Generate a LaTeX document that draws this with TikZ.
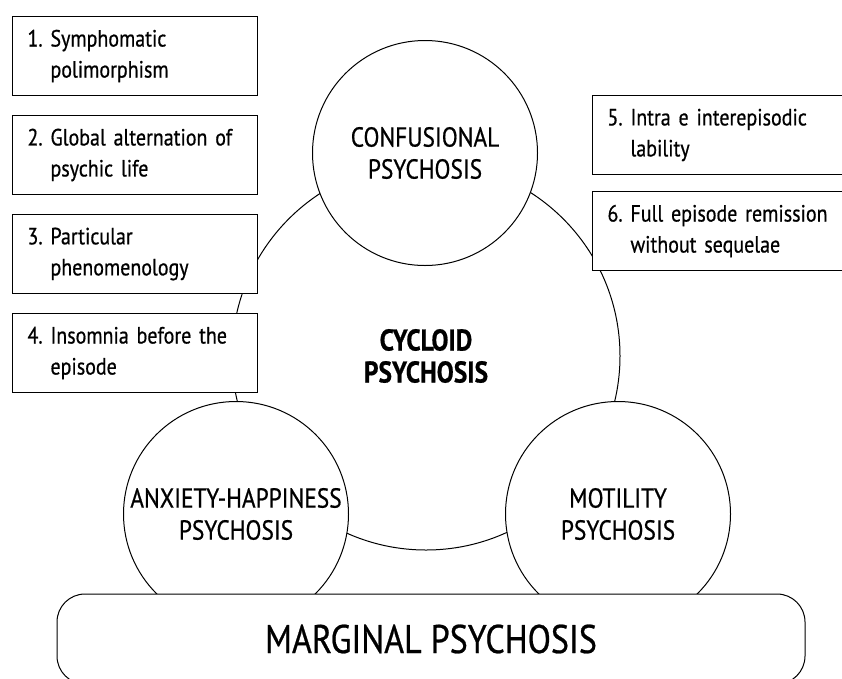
\documentclass[tikz,border=0pt]{standalone}
\usepackage{fontspec}
\setmainfont[FakeStretch=0.85,FakeBold=0.6]{PT Sans}
\frenchspacing
\begin{document}
\begin{tikzpicture}[x=1pt,y=-1pt,
  line width=1pt,
  itembox/.style={draw, fill=white, anchor=north west, minimum width=245pt,
    minimum height=79pt, text width=215pt, inner xsep=15pt, inner ysep=0pt, align=left,
    font=\fontsize{23.5}{31}\selectfont},
  subcirc/.style={draw, fill=white, circle, minimum size=225pt, inner sep=0pt,
    align=center, font=\fontsize{27.5}{32}\selectfont},
]
\useasboundingbox (0,0) rectangle (842,678);
\clip (0,0) rectangle (842,678);
% main circle
\node[draw, circle, minimum size=388pt, inner sep=0pt, align=center,
  font=\bfseries\fontsize{30}{32}\selectfont] (cyc) at (426,356) {CYCLOID\\PSYCHOSIS};
% sub circles
\node[subcirc] (conf) at (425,153) {CONFUSIONAL\\PSYCHOSIS};
\node[subcirc] (anx) at (236,514) {ANXIETY-HAPPINESS\\PSYCHOSIS};
\node[subcirc] (mot) at (618,514) {MOTILITY\\PSYCHOSIS};
% marginal
\node[draw, fill=white, rounded corners=28pt, minimum width=748pt, minimum height=90pt,
  font=\fontsize{40}{50}\selectfont] (marg) at (431,639) {\raisebox{-6pt}{MARGINAL PSYCHOSIS}};
% items left
\node[itembox] (i1) at (12,16) {1. Symphomatic\\\hspace*{23pt}polimorphism};
\node[itembox] (i2) at (12,115) {2. Global alternation of\\\hspace*{23pt}psychic life};
\node[itembox] (i3) at (12,214) {3. Particular\\\hspace*{23pt}phenomenology};
\node[itembox] (i4) at (12,313) {4. Insomnia before the\\\hspace*{23pt}episode};
% items right
\node[itembox, minimum width=270pt, text width=240pt] (i5) at (592,95) {5. Intra e interepisodic\\\hspace*{23pt}lability};
\node[itembox, minimum width=270pt, text width=240pt] (i6) at (592,191) {6. Full episode remission\\\hspace*{23pt}without sequelae};
\end{tikzpicture}
\end{document}
